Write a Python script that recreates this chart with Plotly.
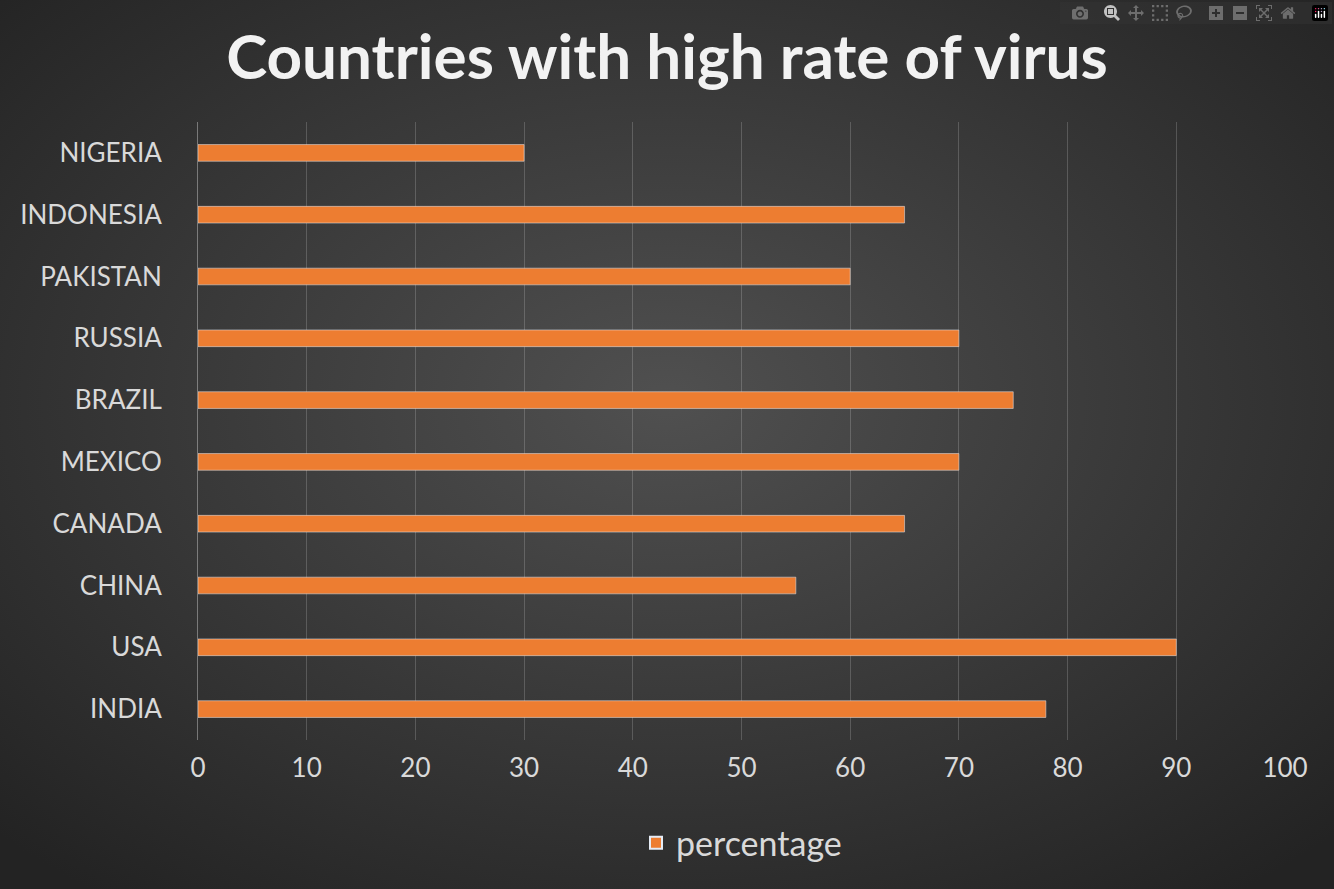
import base64
import plotly.graph_objects as go

countries = ['INDIA', 'USA', 'CHINA', 'CANADA', 'MEXICO',
             'BRAZIL', 'RUSSIA', 'PAKISTAN', 'INDONESIA', 'NIGERIA']
percentage = [78, 90, 55, 65, 70, 75, 70, 60, 65, 30]
x_ticks = list(range(0, 101, 10))

# radial gradient background like the original dark chart style
svg = ('<svg xmlns="http://www.w3.org/2000/svg" width="1334" height="889">'
       '<defs><radialGradient id="g" cx="50%" cy="45%" r="70%">'
       '<stop offset="0%" stop-color="#505050"/>'
       '<stop offset="100%" stop-color="#232323"/></radialGradient></defs>'
       '<rect width="1334" height="889" fill="url(#g)"/></svg>')
bg = 'data:image/svg+xml;base64,' + base64.b64encode(svg.encode()).decode()

fig = go.Figure(go.Bar(
    x=percentage, y=countries, orientation='h', name='percentage',
    marker=dict(color='#ED7D31'), width=0.27,
))

fig.update_layout(
    width=1334, height=889,
    paper_bgcolor='#333333', plot_bgcolor='rgba(0,0,0,0)',
    font=dict(family='Lato, Open Sans, sans-serif', color='#d9d9d9'),
    title=dict(text='<b>Countries with high rate of virus</b>', x=0.5, xanchor='center',
               y=0.935, yanchor='middle', font=dict(size=62, color='#f2f2f2')),
    margin=dict(l=198, r=49, t=122, b=149),
    showlegend=True,
    legend=dict(orientation='h', x=0.5, xanchor='center', y=-0.12, yanchor='top',
                font=dict(size=34, color='#d9d9d9'), bgcolor='rgba(0,0,0,0)',
                itemsizing='constant'),
    images=[dict(source=bg, xref='paper', yref='paper',
                 x=-198 / 1087, y=1 + 122 / 618, sizex=1334 / 1087, sizey=889 / 618,
                 xanchor='left', yanchor='top', sizing='stretch', layer='below')],
)

fig.update_xaxes(range=[0, 100], tickvals=x_ticks, showgrid=True,
                 gridcolor='rgba(255,255,255,0.18)', gridwidth=1, zeroline=False,
                 tickfont=dict(size=26, color='#d9d9d9'), ticks='', ticklabelstandoff=10)
fig.update_yaxes(showline=True, linecolor='rgba(255,255,255,0.35)', showgrid=False,
                 tickfont=dict(size=26, color='#d9d9d9'), ticks='', ticklabelstandoff=30)

fig.write_html('out.html',
               post_script="document.body.style.margin='0';document.body.style.background='#262626';")
